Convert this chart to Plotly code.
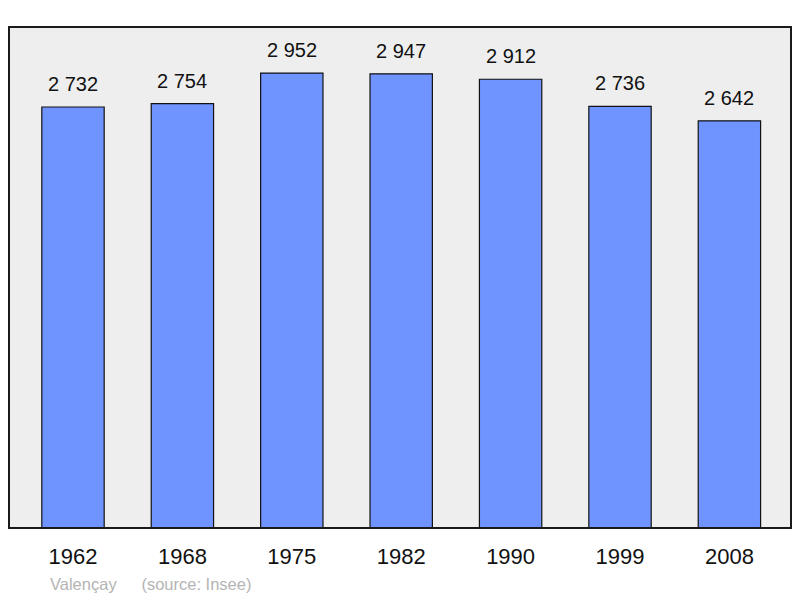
import plotly.graph_objects as go

# population by census year
years = ["1962", "1968", "1975", "1982", "1990", "1999", "2008"]
population = [2732, 2754, 2952, 2947, 2912, 2736, 2642]
labels = ["2 732", "2 754", "2 952", "2 947", "2 912", "2 736", "2 642"]

fig = go.Figure()
fig.add_trace(go.Bar(
    x=years,
    y=population,
    width=0.57,
    marker=dict(color="#7094ff", line=dict(color="#111111", width=1.2)),
    hoverinfo="skip",
))

# value labels above each bar (category index as x, a "1962" string would be read as a number)
for i, (val, lab) in enumerate(zip(population, labels)):
    fig.add_annotation(x=i, y=val, text=lab, showarrow=False,
                       yanchor="bottom", yshift=10,
                       font=dict(size=20, color="#111111"))

fig.add_annotation(xref="paper", yref="paper", x=0.05, y=-0.112,
                   xanchor="left", yanchor="middle", showarrow=False,
                   text="Valençay\u2003\u2002(source: Insee)",
                   font=dict(size=16.5, color="#b4b4b4"))

# frame round the plot area
fig.add_shape(type="rect", xref="paper", yref="paper", x0=0, y0=0, x1=1, y1=1,
              line=dict(color="#1a1a1a", width=2), layer="above")

fig.update_layout(
    width=800, height=598,
    margin=dict(l=9, r=9, t=27, b=70),
    paper_bgcolor="white",
    plot_bgcolor="#eeeeee",
    font=dict(family="Liberation Sans, Arial, sans-serif", color="#111111"),
    showlegend=False,
    xaxis=dict(type="category", range=[-0.585, 6.563], showgrid=False,
               ticks="outside", ticklen=9, tickcolor="rgba(0,0,0,0)",
               tickfont=dict(size=22), showline=False, zeroline=False),
    yaxis=dict(range=[0, 3251], visible=False, showgrid=False),
)

# page has a default body margin that would shift the figure
fig.write_html("out.html", config={"displayModeBar": False},
               post_script="document.body.style.margin='0';")
